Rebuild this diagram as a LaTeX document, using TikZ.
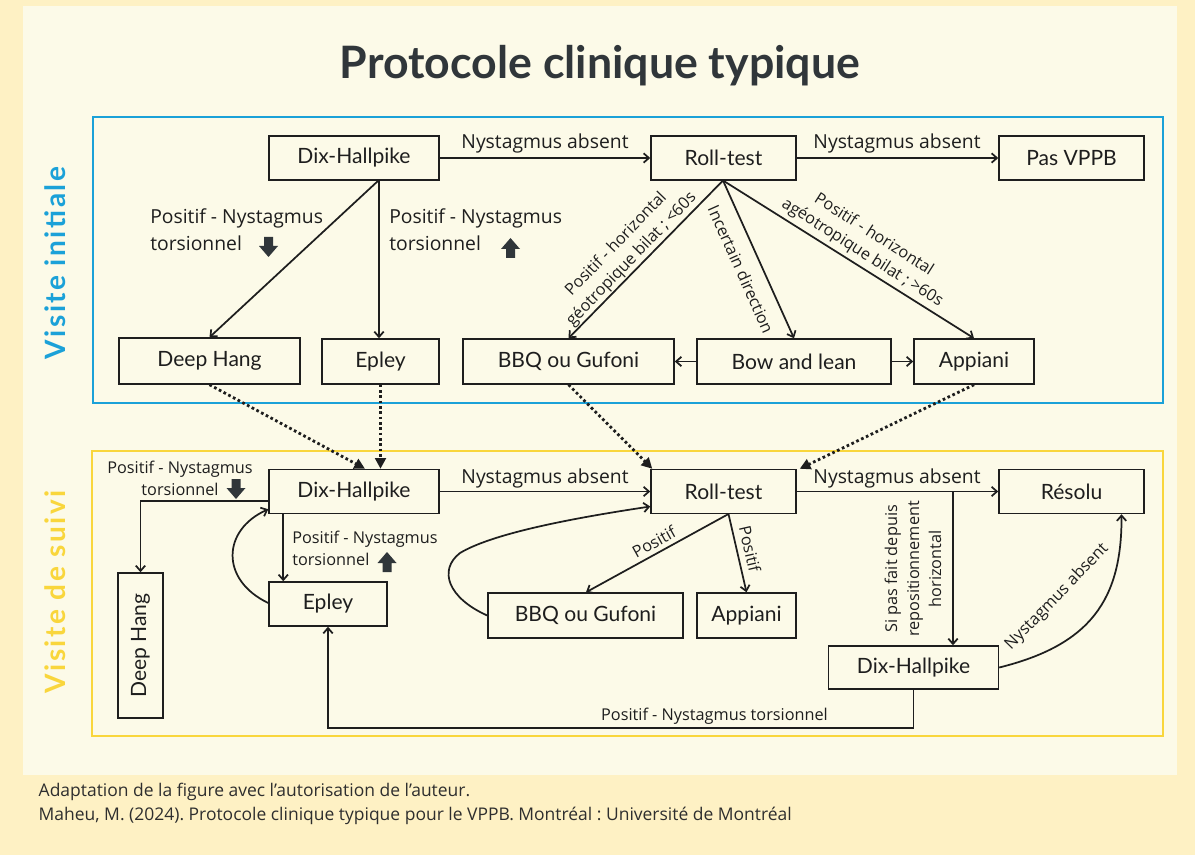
\documentclass[tikz,border=0pt]{standalone}
\usepackage{fontspec}
\setmainfont{Open Sans}
\newfontfamily\latofont{Lato}
\newfontfamily\sidefont[LetterSpace=9]{Lato}
\usetikzlibrary{arrows.meta,calc}
\definecolor{outerbg}{HTML}{FEF1C4}
\definecolor{innerbg}{HTML}{FCFAE8}
\definecolor{bl}{HTML}{1BA1D8}
\definecolor{ye}{HTML}{F9D63C}
\definecolor{ink}{HTML}{1E1E1E}
\definecolor{titlec}{HTML}{30363A}
\definecolor{iconc}{HTML}{30363A}
\tikzset{
  dnarrow/.pic={\fill[iconc] (-4.5,-10) -- (4.5,-10) -- (4.5,-1) -- (9.5,-1) -- (0,10) -- (-9.5,-1) -- (-4.5,-1) -- cycle;},
  uparrow/.pic={\fill[iconc] (-4.5,10) -- (4.5,10) -- (4.5,1) -- (9.5,1) -- (0,-10) -- (-9.5,1) -- (-4.5,1) -- cycle;}
}
\frenchspacing
\begin{document}
\begin{tikzpicture}[x=0.75pt,y=-0.75pt,
  every node/.style={text=ink},
  box/.style={draw=ink,line width=1.1pt,fill=innerbg,inner sep=0pt,font=\latofont\fontsize{15.8}{18}\selectfont},
  sz/.style 2 args={minimum width=#1*0.75pt,minimum height=#2*0.75pt},
  conn/.style={draw=ink,line width=1.3pt,-{Straight Barb[length=4pt,width=7pt]}},
  dotc/.style={draw=ink,line width=2.1pt,dash pattern=on 2pt off 2pt,-{Triangle[length=8pt,width=8pt]}},
  lbl/.style={font=\fontsize{14.5}{20}\selectfont,inner sep=0pt},
  slbl/.style={font=\fontsize{12.2}{16.5}\selectfont,inner sep=0pt},
  rlbl/.style={font=\fontsize{12.2}{16}\selectfont,inner sep=0pt},
  foot/.style={font=\fontsize{13.1}{18}\selectfont,anchor=base west,text=black!82},
  side/.style={font=\sidefont\bfseries\fontsize{21}{24}\selectfont,rotate=90},
]
% backgrounds
\fill[outerbg] (0,0) rectangle (1195,855);
\fill[innerbg] (23,6) rectangle (1177,775);
\useasboundingbox (0,0) rectangle (1195,855);
\draw[bl,line width=2.2pt] (93,117) rectangle (1163,403);
\draw[ye,line width=2.2pt] (92,451) rectangle (1163,736);

% title and side labels
\node[font=\latofont\bfseries\fontsize{33.5}{40}\selectfont,text=titlec,anchor=base] (title) at (600,79) {Protocole clinique typique};
\node[side,text=bl] (vinit) at (55,263) {Visite initiale};
\node[side,text=ye] (vsuiv) at (55,592) {Visite de suivi};

% initial visit nodes
\node[box,sz={170}{44}] (dh1) at (354,158) {Dix-Hallpike};
\node[box,sz={145}{44}] (rt1) at (723.5,158) {Roll-test};
\node[box,sz={145}{44}] (pv) at (1071.5,158) {Pas VPPB};
\node[box,sz={181}{46}] (dhg1) at (209.5,361) {Deep Hang};
\node[box,sz={117}{45}] (ep1) at (380.5,361.5) {Epley};
\node[box,sz={211}{45}] (bbq1) at (568.5,361.5) {BBQ ou Gufoni};
\node[box,sz={194}{45}] (bow) at (794,361.5) {Bow and lean};
\node[box,sz={120}{45}] (app1) at (974,361.5) {Appiani};

% follow-up nodes
\node[box,sz={170}{44}] (dh2) at (354,491.5) {Dix-Hallpike};
\node[box,sz={145}{44}] (rt2) at (723.5,491.5) {Roll-test};
\node[box,sz={145}{44}] (res) at (1071.5,491.5) {Résolu};
\node[box,sz={118}{44}] (ep2) at (328,604) {Epley};
\node[box,sz={145}{45},rotate=90] (dhg2) at (140.5,645.5) {Deep Hang};
\node[box,sz={195}{45}] (bbq2) at (585.5,615.5) {BBQ ou Gufoni};
\node[box,sz={99}{45}] (app2) at (746.5,615.5) {Appiani};
\node[box,sz={170}{43}] (dh3) at (913.5,667.5) {Dix-Hallpike};

% initial visit connectors
\coordinate (dh1b) at (379,180);
\coordinate (rt1b) at (723,180.5);
\draw[conn] (dh1.east) -- (rt1.west);
\draw[conn] (rt1.east) -- (pv.west);
\draw[conn] (dh1b) -- (dhg1.north);
\draw[conn] (dh1b) -- (dh1b |- ep1.north);
\draw[conn] (rt1b) -- (bbq1.north);
\draw[conn] (rt1b) -- (bow.north);
\draw[conn] (rt1b) -- (app1.north);
\draw[conn] (bow.west) -- (bbq1.east);
\draw[conn] (bow.east) -- (app1.west);

\node[lbl,anchor=base] (l1) at (545,149) {Nystagmus absent};
\node[lbl,anchor=base] (l2) at (897,149) {Nystagmus absent};
\node[lbl,align=left,anchor=west] (l3) at (150,230) {Positif - Nystagmus\\torsionnel};
\node[lbl,align=left,anchor=west] (l4) at (389,230) {Positif - Nystagmus\\torsionnel};
\pic at (268.5,247) {dnarrow};
\pic at (510.5,248) {uparrow};
\node[rlbl,align=center,rotate=46] (l5) at (624,252) {Positif - horizontal\\géotropique bilat ; <60s};
\node[rlbl,rotate=-66] (l6) at (741,269.5) {Incertain direction};
\node[rlbl,align=center,rotate=-32.5] (l7) at (868,244) {Positif - horizontal\\agéotropique bilat ; >60s};

% dotted transitions
\draw[dotc] (dhg1.south) -- ($(dh2.north)+(11,0)$);
\draw[dotc] (ep1.south) -- ($(dh2.north)+(26.5,0)$);
\draw[dotc] (bbq1.south) -- ($(rt2.north west)+(2,0)$);
\draw[dotc] (app1.south) -- ($(rt2.north east)+(3,0)$);

% follow-up connectors
\coordinate (br) at (953,491.5);
\coordinate (rt2b) at (728.5,514);
\draw[conn] (dh2.east) -- (rt2.west);
\draw[conn] (rt2.east) -- (res.west);
\draw[conn] (br) -- (br |- dh3.north);
\draw[conn] ($(dh2.west)+(0,9.5)$) -| (dhg2.east);
\draw[conn] ($(dh2.south west)+(15,0)$) -- ($(ep2.north west)+(15,0)$);
\draw[conn] ($(ep2.west)+(0,-1)$) .. controls (220,580) and (222,530) .. ($(dh2.south west)+(0,-5)$);
\draw[conn] (bbq2.west) .. controls (448,598) and (438,570) .. (460,553) .. controls (490,535) and (560,520) .. ($(rt2.west)+(0,15)$);
\draw[conn] (rt2b) -- ($(bbq2.north)+(0.5,0)$);
\draw[conn] (rt2b) -- (app2.north);
\draw[conn] (dh3.east) .. controls (1090,645) and (1122,600) .. ($(res.south)+(50,0)$);
\draw[conn] (dh3.south) -- ++(0,38) -| (ep2.south);

\node[lbl,anchor=base] (l8) at (545,483) {Nystagmus absent};
\node[lbl,anchor=base] (l9) at (897,483) {Nystagmus absent};
\node[slbl,align=center] (l10) at (180,478) {Positif - Nystagmus\\torsionnel};
\pic at (236,489) {dnarrow};
\node[slbl,align=left,anchor=west] (l11) at (292,548) {Positif - Nystagmus\\torsionnel};
\pic at (387,562) {uparrow};
\node[slbl,rotate=29] (l12) at (654,542) {Positif};
\node[slbl,rotate=-77] (l13) at (750,549) {Positif};
\node[slbl,align=center,rotate=90] (l14) at (913,569) {Si pas fait depuis\\repositionnement\\horizontal};
\node[slbl,rotate=46] (l15) at (1057,597) {Nystagmus absent};
\node[slbl,anchor=base] (l16) at (714.5,720) {Positif - Nystagmus torsionnel};

% footer
\node[foot] (f1) at (34,796) {Adaptation de la figure avec l’autorisation de l’auteur.};
\node[foot] (f2) at (34,820) {Maheu, M. (2024). Protocole clinique typique pour le VPPB. Montréal : Université de Montréal};
\end{tikzpicture}
\end{document}
